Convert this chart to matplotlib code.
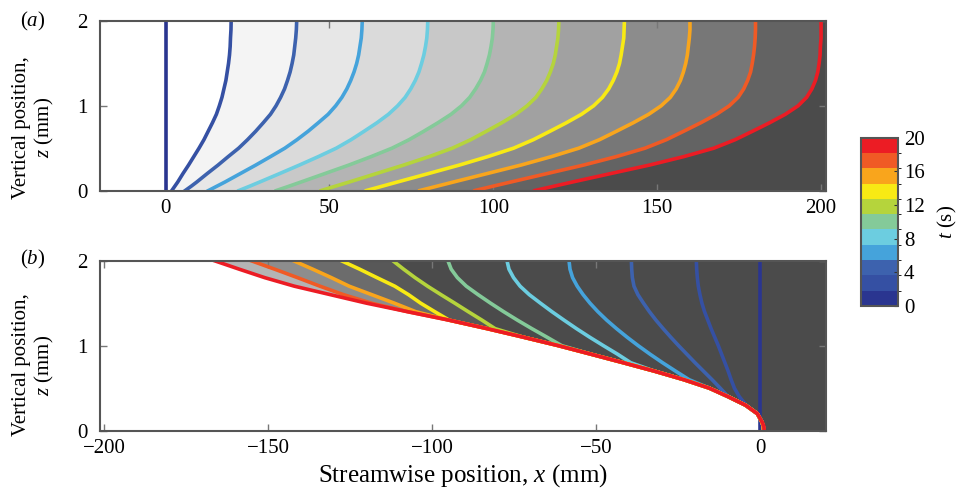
import numpy as np
import matplotlib
matplotlib.use('Agg')
import matplotlib.pyplot as plt
from matplotlib.colors import ListedColormap, BoundaryNorm
import matplotlib.colorbar as mcolorbar

plt.rcParams['font.family'] = 'Liberation Serif'
plt.rcParams['mathtext.fontset'] = 'custom'
plt.rcParams['mathtext.rm'] = 'Liberation Serif'
plt.rcParams['mathtext.it'] = 'Liberation Serif:italic'
plt.rcParams['font.size'] = 15

# time of each material line (s)
times = [0, 2, 4, 6, 8, 10, 12, 14, 16, 18, 20]
line_colors = ['#2a3590', '#3550a3', '#3d62ae', '#45a3db', '#6ccde0', '#84ca99',
               '#b5d43c', '#f8ea14', '#f9a51c', '#f05a25', '#ec1c24']

# vertical positions (mm) where the lines were read
z = [0, 0.05, 0.1, 0.2, 0.3, 0.4, 0.5, 0.6, 0.7, 0.8, 0.9, 1.0,
     1.1, 1.2, 1.3, 1.4, 1.5, 1.6, 1.7, 1.8, 1.9, 2.0]

# (a) streamwise positions x (mm) of each line
a_t00 = [0] * 22
a_t02 = [1.9, 2.8, 3.7, 5.3, 7.0, 8.6, 10.2, 11.7, 13.0, 14.3, 15.5, 16.4,
         17.2, 17.8, 18.4, 18.8, 19.2, 19.5, 19.7, 19.8, 19.95, 20.0]
a_t04 = [6.0, 7.8, 9.5, 12.7, 16.0, 19.1, 22.3, 25.0, 27.5, 29.8, 32.0, 33.7,
         35.1, 36.3, 37.2, 38.0, 38.6, 39.1, 39.4, 39.7, 39.9, 40.0]
a_t06 = [13.1, 15.6, 18.1, 22.8, 27.5, 32.0, 36.4, 40.1, 43.5, 46.6, 49.6, 51.9,
         53.8, 55.3, 56.5, 57.5, 58.3, 58.9, 59.3, 59.7, 59.9, 60.0]
a_t08 = [22.4, 25.6, 28.7, 34.8, 40.8, 46.6, 52.1, 56.6, 60.6, 64.5, 68.0, 70.8,
         73.1, 74.8, 76.2, 77.3, 78.1, 78.8, 79.3, 79.7, 79.9, 80.0]
a_t10 = [33.8, 37.6, 41.3, 48.6, 55.9, 62.7, 69.1, 74.3, 78.8, 83.1, 87.1, 90.3,
         92.8, 94.6, 96.1, 97.3, 98.1, 98.8, 99.3, 99.7, 99.9, 100.0]
a_t12 = [47.5, 51.7, 56.0, 64.3, 72.6, 80.4, 87.5, 93.1, 97.9, 102.6, 106.9, 110.3,
         113.0, 114.8, 116.3, 117.4, 118.3, 118.9, 119.3, 119.7, 119.9, 120.0]
a_t14 = [61.3, 66.0, 70.7, 80.2, 89.6, 98.3, 106.2, 112.2, 117.3, 122.3, 126.9, 130.6,
         133.3, 135.2, 136.6, 137.7, 138.5, 139.0, 139.4, 139.8, 139.9, 140.0]
a_t16 = [77.6, 82.7, 87.8, 98.1, 108.4, 117.7, 126.1, 132.4, 137.6, 142.7, 147.4, 151.2,
         154.0, 155.8, 157.1, 158.0, 158.7, 159.2, 159.5, 159.8, 160.0, 160.0]
a_t18 = [94.4, 99.8, 105.3, 116.4, 127.5, 137.5, 146.3, 152.8, 158.1, 163.3, 168.1, 172.0,
         174.7, 176.4, 177.6, 178.5, 179.0, 179.4, 179.7, 179.9, 180.0, 180.0]
a_t20 = [112.7, 118.4, 124.1, 135.8, 147.6, 158.1, 167.3, 173.8, 179.1, 184.3, 189.1, 193.0,
         195.6, 197.2, 198.3, 199.0, 199.4, 199.7, 199.8, 200.0, 200.0, 200.0]

# (b) streamwise positions x (mm) of each line
b_t00 = [0] * 22
b_t02 = [0.9, 0.85, 0.5, -0.9, -4.3, -6.4, -7.9, -8.9, -9.8, -10.8, -11.8, -12.8,
         -13.9, -15.0, -16.0, -17.0, -17.8, -18.4, -18.9, -19.2, -19.4, -19.5]
b_t04 = [1.0, 0.9, 0.5, -0.9, -4.5, -9.8, -12.2, -14.7, -17.3, -19.9, -22.4, -24.9,
         -27.3, -29.6, -31.8, -33.8, -35.6, -37.3, -38.5, -39.0, -39.2, -39.3]
b_t06 = [1.0, 0.9, 0.5, -0.9, -4.5, -9.8, -15.5, -21.7, -25.8, -29.8, -33.6, -37.2,
         -40.6, -43.8, -46.8, -49.5, -51.9, -54.0, -55.8, -57.2, -58.0, -58.3]
b_t08 = [1.0, 0.9, 0.5, -0.9, -4.5, -9.8, -15.5, -23.3, -32.2, -39.5, -43.5, -47.8,
         -52.0, -56.0, -59.8, -63.5, -67.0, -70.4, -73.2, -75.2, -76.6, -77.2]
b_t10 = [1.0, 0.9, 0.5, -0.9, -4.5, -9.8, -15.5, -23.3, -32.2, -41.8, -51.6, -60.5,
         -65.0, -69.6, -74.0, -78.2, -82.2, -86.0, -89.6, -92.3, -94.2, -95.2]
b_t12 = [1.0, 0.9, 0.5, -0.9, -4.5, -9.8, -15.5, -23.3, -32.2, -41.8, -51.6, -61.5,
         -72.2, -80.8, -84.8, -89.0, -93.1, -97.3, -101.4, -105.2, -108.7, -112.0]
b_t14 = [1.0, 0.9, 0.5, -0.9, -4.5, -9.8, -15.5, -23.3, -32.2, -41.8, -51.6, -61.5,
         -72.2, -83.2, -94.8, -99.2, -103.5, -107.2, -111.4, -116.8, -122.1, -127.7]
b_t16 = [1.0, 0.9, 0.5, -0.9, -4.5, -9.8, -15.5, -23.3, -32.2, -41.8, -51.6, -61.5,
         -72.2, -83.2, -94.8, -105.0, -111.5, -118.4, -125.3, -130.7, -136.4, -142.3]
b_t18 = [1.0, 0.9, 0.5, -0.9, -4.5, -9.8, -15.5, -23.3, -32.2, -41.8, -51.6, -61.5,
         -72.2, -83.2, -94.8, -107.5, -118.5, -127.0, -134.2, -141.0, -148.0, -155.2]
b_t20 = [1.2, 1.1, 0.6, -0.9, -4.5, -9.8, -15.5, -23.3, -32.2, -41.8, -51.6, -61.5,
         -72.2, -83.2, -94.8, -107.5, -120.0, -131.0, -142.0, -151.0, -158.8, -166.4]

a_lines = [a_t00, a_t02, a_t04, a_t06, a_t08, a_t10, a_t12, a_t14, a_t16, a_t18, a_t20]
b_lines = [b_t00, b_t02, b_t04, b_t06, b_t08, b_t10, b_t12, b_t14, b_t16, b_t18, b_t20]

# grey shading between successive lines
a_greys = ['#ffffff', '#f4f4f4', '#e7e7e7', '#dadada', '#c8c8c8', '#b4b4b4',
           '#a1a1a1', '#8c8c8c', '#777777', '#636363', '#4b4b4b']
b_greys = ['#4b4b4b', '#4b4b4b', '#4b4b4b', '#4b4b4b', '#4b4b4b', '#4b4b4b',
           '#585858', '#6c6c6c', '#8d8d8d', '#b4b4b4']
b_right = '#4b4b4b'

frame = '#555555'

fig = plt.figure(figsize=(9.62, 4.91), dpi=100)
ax1 = fig.add_axes([0.104, 0.612, 0.7546, 0.345])
ax2 = fig.add_axes([0.104, 0.1228, 0.7546, 0.3463])
cax = fig.add_axes([0.8947, 0.3768, 0.0391, 0.3428])

# ---- (a)
xa_min, xa_max = -20, 201.5
for k in range(10):
    ax1.fill_betweenx(z, a_lines[k], a_lines[k + 1], color=a_greys[k], lw=0.5, zorder=1)
ax1.fill_betweenx(z, a_lines[10], xa_max, color=a_greys[10], lw=0.5, zorder=1)
for x, c in zip(a_lines, line_colors):
    ax1.plot(x, z, color=c, lw=2.6, zorder=2)
ax1.set_xlim(xa_min, xa_max)
ax1.set_ylim(0, 2)
ax1.set_xticks([0, 50, 100, 150, 200])
ax1.set_yticks([0, 1, 2])

# ---- (b)
xb_min, xb_max = -201.2, 20
for k in range(10):
    ax2.fill_betweenx(z, b_lines[k + 1], b_lines[k], color=b_greys[k], lw=0.5, zorder=1)
ax2.fill_betweenx(z, b_lines[0], xb_max, color=b_right, lw=0.5, zorder=1)
for x, c in zip(b_lines, line_colors):
    ax2.plot(x, z, color=c, lw=2.6, zorder=2)
ax2.set_xlim(xb_min, xb_max)
ax2.set_ylim(0, 2)
ax2.set_xticks([-200, -150, -100, -50, 0])
ax2.set_yticks([0, 1, 2])
ax2.set_xlabel('Streamwise position, $x$ (mm)', fontsize=18, labelpad=3)

for ax in (ax1, ax2):
    for s in ax.spines.values():
        s.set_color(frame)
        s.set_linewidth(1.5)
    ax.tick_params(direction='in', top=True, right=True, length=5, width=1,
                   color='#777777', labelcolor='black')
    ax.tick_params(axis='x', pad=6)
    ax.tick_params(axis='y', pad=9)

fig.text(0.035, 0.741, 'Vertical position,\n$z$ (mm)', rotation=90,
         ha='center', va='center', multialignment='center', linespacing=1.1)
fig.text(0.035, 0.2566, 'Vertical position,\n$z$ (mm)', rotation=90,
         ha='center', va='center', multialignment='center', linespacing=1.1)
fig.text(0.034, 0.957, '($a$)', ha='center', va='center')
fig.text(0.034, 0.472, '($b$)', ha='center', va='center')

# ---- colour bar
cmap = ListedColormap(line_colors)
norm = BoundaryNorm(np.linspace(0, 20, 12), cmap.N)
cb = mcolorbar.ColorbarBase(cax, cmap=cmap, norm=norm, ticks=[0, 4, 8, 12, 16, 20])
cb.outline.set_edgecolor(frame)
cb.outline.set_linewidth(1.5)
cax.tick_params(direction='in', length=3, color='#333333', pad=4)
cb.set_label('$t$ (s)', labelpad=8)

fig.savefig('out.png', dpi=100)
